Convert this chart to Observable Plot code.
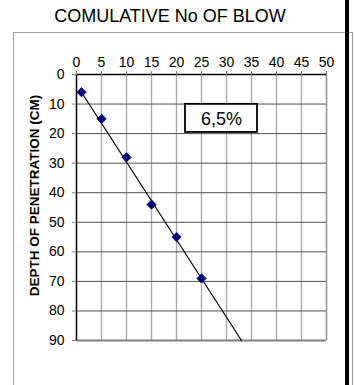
<!DOCTYPE html>
<html>
<head>
<meta charset="utf-8">
<script src="https://cdn.jsdelivr.net/npm/d3@7"></script>
<script src="https://cdn.jsdelivr.net/npm/@observablehq/plot@0.6"></script>
<style>
  html, body { margin: 0; padding: 0; background: #fff; }
  #wrap { position: relative; width: 355px; height: 385px; overflow: hidden; font-family: "Liberation Sans", Arial, sans-serif; }
  #title { position: absolute; left: 0; width: 340px; top: 6px; text-align: center; font-size: 18px; color: #000; }
  #frame { position: absolute; left: 13px; top: 32px; width: 340px; height: 400px; border: 1px solid #a0a0a0; box-sizing: border-box; }
  #bar { position: absolute; left: 345px; top: 0; width: 4px; height: 385px; background: #000; }
  #chart { position: absolute; left: 0; top: 0; }
</style>
</head>
<body>
<div id="wrap">
  <div id="frame"></div>
  <div id="bar"></div>
  <div id="title">COMULATIVE No OF BLOW</div>
  <div id="chart"></div>
</div>
<script>
// Data
const blows = [1, 5, 10, 15, 20, 25];
const depth = [6, 15, 28, 44, 55, 69];
// trend line endpoints
const trendBlows = [1, 33];
const trendDepth = [6, 90];
const xTicks = [0, 5, 10, 15, 20, 25, 30, 35, 40, 45, 50];
const yTicks = [0, 10, 20, 30, 40, 50, 60, 70, 80, 90];
const labelText = ["6,5%"];
const labelX = [29];
const labelY = [15];
const boxX = [21.8, 36.2];
const boxY = [10.1, 19.6];

const points = blows.map((b, i) => ({x: b, y: depth[i]}));
const trend = trendBlows.map((b, i) => ({x: b, y: trendDepth[i]}));
const labels = labelText.map((t, i) => ({x: labelX[i], y: labelY[i], text: t}));
const box = [{x1: boxX[0], x2: boxX[1], y1: boxY[0], y2: boxY[1]}];

const chart = Plot.plot({
  width: 355,
  height: 385,
  marginTop: 74,
  marginLeft: 76,
  marginRight: 29,
  marginBottom: 45,
  style: {fontFamily: "Liberation Sans, Arial, sans-serif", background: "transparent", overflow: "visible"},
  x: {domain: [0, 50]},
  y: {domain: [0, 90], reverse: true},
  marks: [
    Plot.ruleX(xTicks.slice(1, -1), {stroke: "#a8a8a8", strokeWidth: 1.3}),
    Plot.ruleY(yTicks.slice(1, -1), {stroke: "#505050", strokeWidth: 1}),
    Plot.ruleX([50], {stroke: "#909090", strokeWidth: 1.5}),
    Plot.ruleY([90], {stroke: "#808080", strokeWidth: 2}),
    Plot.ruleX([0], {stroke: "#000", strokeWidth: 1.5}),
    Plot.ruleY([0], {stroke: "#000", strokeWidth: 1.5}),
    Plot.axisX({anchor: "top", ticks: xTicks, tickSize: 4, tickPadding: 4, fontSize: 14, label: null, stroke: "#808080"}),
    Plot.axisY({anchor: "left", ticks: yTicks, tickSize: 4, tickPadding: 8, fontSize: 14, label: null, stroke: "#808080"}),
    Plot.line(trend, {x: "x", y: "y", stroke: "#000", strokeWidth: 1.2}),
    Plot.dot(points, {x: "x", y: "y", symbol: "square", r: 3.7, rotate: 45, fill: "#000080", stroke: "#000080", strokeWidth: 0.8}),
    Plot.rect(box, {x1: "x1", x2: "x2", y1: "y1", y2: "y2", fill: "#fff", stroke: "#000", strokeWidth: 1.8}),
    Plot.text(labels, {x: "x", y: "y", text: "text", fontSize: 18, fill: "#000"}),
    Plot.text(["DEPTH OF PENETRATION (CM)"], {frameAnchor: "left", textAnchor: "middle", rotate: -90, dx: -42, dy: -12, fontSize: 13.5, fontWeight: "bold", fill: "#000"})
  ]
});
document.getElementById("chart").appendChild(chart);
</script>
</body>
</html>
